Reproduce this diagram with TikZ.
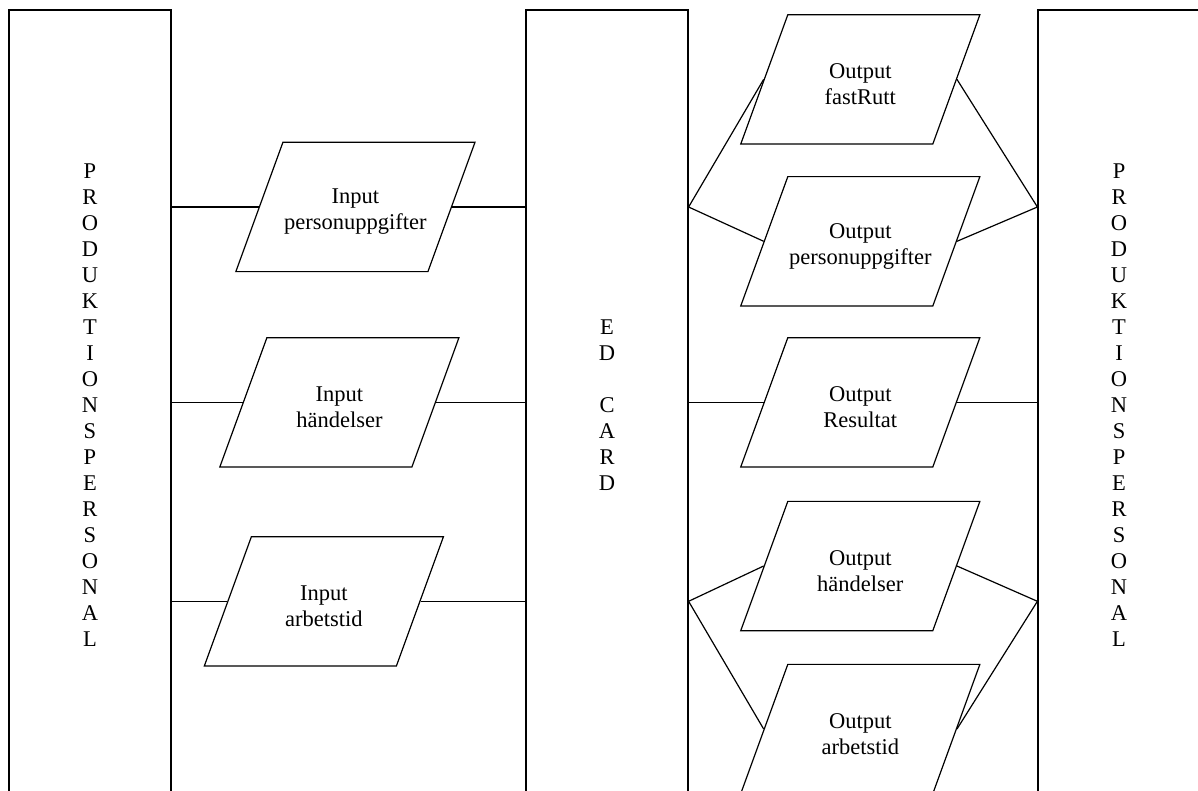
\documentclass[tikz,border=0pt]{standalone}
\usepackage{fontspec}
\setmainfont{Liberation Serif}
\usetikzlibrary{shapes.geometric}

% fixed text box inside each data symbol, so the slant keeps its angle;
% the two lines sit a little below the middle
\newcommand\iotext[1]{\parbox[c][129.3pt][s]{145pt}{\centering
  \vspace*{\fill}\vspace*{10pt}#1\par\vspace*{\fill}}}

\tikzset{
  pillar/.style={draw, line width=1.2pt, minimum width=162pt, minimum height=790pt,
    inner sep=0pt, align=center},
  iobox/.style={draw, line width=1.2pt, trapezium, trapezium left angle=70,
    trapezium right angle=110, inner sep=0pt},
  link/.style={line width=1.2pt},
}

\begin{document}
\begin{tikzpicture}[x=1pt, y=-1pt, font=\fontsize{22.5}{26}\selectfont]
  \useasboundingbox (0,0) rectangle (1198,791);
  \clip (0,0) rectangle (1198,791);

  % columns
  \node[pillar] (lp) at (90,405) {P\\R\\O\\D\\U\\K\\T\\I\\O\\N\\S\\P\\E\\R\\S\\O\\N\\A\\L};
  \node[pillar] (ed) at (607,405) {E\\D\\\mbox{}\\C\\A\\R\\D};
  \node[pillar] (rp) at (1119,405) {P\\R\\O\\D\\U\\K\\T\\I\\O\\N\\S\\P\\E\\R\\S\\O\\N\\A\\L};

  % inputs
  \node[iobox] (ip) at (355.4,207) {\iotext{Input\\personuppgifter}};
  \node[iobox] (ih) at (339.4,402.3) {\iotext{Input\\händelser}};
  \node[iobox] (ia) at (323.9,601.3) {\iotext{Input\\arbetstid}};

  % outputs
  \node[iobox] (of) at (860.3,79.4) {\iotext{Output\\fastRutt}};
  \node[iobox] (op) at (860.3,241.3) {\iotext{Output\\personuppgifter}};
  \node[iobox] (or) at (860.3,402.3) {\iotext{Output\\Resultat}};
  \node[iobox] (oh) at (860.3,566) {\iotext{Output\\händelser}};
  \node[iobox] (oa) at (860.3,729) {\iotext{Output\\arbetstid}};

  % fan points on the column edges
  \coordinate (eu) at (ed.east |- ip.center);
  \coordinate (el) at (ed.east |- ia.center);
  \coordinate (ru) at (rp.west |- ip.center);
  \coordinate (rl) at (rp.west |- ia.center);

  % input links
  \foreach \n in {ip,ih,ia} {
    \draw[link] (lp.east |- \n.left side) -- (\n.left side);
    \draw[link] (\n.right side) -- (ed.west |- \n.right side);
  }

  % output links
  \draw[link] (ed.east |- or.left side) -- (or.left side);
  \draw[link] (or.right side) -- (rp.west |- or.right side);
  \draw[link] (of.left side) -- (eu) -- (op.left side);
  \draw[link] (of.right side) -- (ru) -- (op.right side);
  \draw[link] (oh.left side) -- (el) -- (oa.left side);
  \draw[link] (oh.right side) -- (rl) -- (oa.right side);
\end{tikzpicture}
\end{document}
